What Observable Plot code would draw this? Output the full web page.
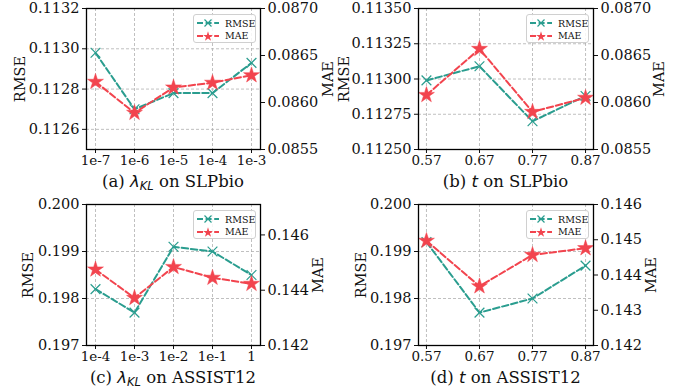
<!DOCTYPE html>
<html>
<head>
<meta charset="utf-8">
<script src="https://cdn.jsdelivr.net/npm/d3@7"></script>
<script src="https://cdn.jsdelivr.net/npm/@observablehq/plot@0.6"></script>
<style>
  html, body { margin: 0; padding: 0; background: #fff; }
  #root { position: relative; width: 683px; height: 392px; overflow: hidden; font-family: "DejaVu Serif", serif; }
  .panel { position: absolute; }
  .panel svg { overflow: visible; display: block; }
  .cap { position: absolute; font-family: "DejaVu Serif", serif; font-size: 16.5px; line-height: 19px; white-space: nowrap; transform: translateX(-50%); color: #111; }
  .cap .m { font-family: "DejaVu Sans", sans-serif; font-style: italic; }
  .cap sub { font-family: "DejaVu Sans", sans-serif; font-style: italic; font-size: 11.5px; vertical-align: -3px; line-height: 0; }
  .leg { position: absolute; width: 63px; height: 29px; border: 1px solid #d0d0d0; border-radius: 3px; background: rgba(255,255,255,0.85); font-family: "DejaVu Serif", serif; font-size: 9.5px; color: #111; box-sizing: border-box; }
  .leg .row { position: absolute; left: 3px; height: 12px; display: flex; align-items: center; }
  .leg .row svg { display: block; margin-right: 6px; }
</style>
</head>
<body>
<div id="root"></div>
<script>
// ---- data ----
const lambdaA = ["1e-7", "1e-6", "1e-5", "1e-4", "1e-3"];
const rmseA = [0.11298, 0.11270, 0.11278, 0.11278, 0.11293];
const maeA = [0.08622, 0.08589, 0.08616, 0.08621, 0.08629];

const tValues = [0.57, 0.67, 0.77, 0.87];
const rmseB = [0.11299, 0.11309, 0.11270, 0.11288];
const maeB = [0.08608, 0.08657, 0.08590, 0.08605];

const lambdaC = ["1e-4", "1e-3", "1e-2", "1e-1", "1"];
const rmseC = [0.1982, 0.1977, 0.1991, 0.1990, 0.1985];
const maeC = [0.14475, 0.14372, 0.14484, 0.14445, 0.14423];

const rmseD = [0.1992, 0.1977, 0.1980, 0.1987];
const maeD = [0.14497, 0.14368, 0.14457, 0.14476];

// tick labels / axis domains
const rmseTicksA = [0.1126, 0.1128, 0.1130, 0.1132];
const rmseDomainA = [0.1125, 0.1132];
const rmseTicksB = [0.11250, 0.11275, 0.11300, 0.11325, 0.11350];
const rmseDomainB = [0.1125, 0.1135];
const maeTicksAB = [0.0855, 0.0860, 0.0865, 0.0870];
const maeDomainAB = [0.0855, 0.0870];
const rmseTicksCD = [0.197, 0.198, 0.199, 0.200];
const rmseDomainCD = [0.197, 0.200];
const maeTicksC = [0.142, 0.144, 0.146];
const maeDomainC = [0.142, 0.1471];
const maeTicksD = [0.142, 0.143, 0.144, 0.145, 0.146];
const maeDomainD = [0.142, 0.146];

const seriesNames = ["RMSE", "MAE"];
const captions = [
  '(a) <span class="m">λ</span><sub>KL</sub> on SLPbio',
  '(b) <span class="m">t</span> on SLPbio',
  '(c) <span class="m">λ</span><sub>KL</sub> on ASSIST12',
  '(d) <span class="m">t</span> on ASSIST12'
];

const TEAL = "#2a9d8f";
const RED = "#f2444e";
const FSY = 14.5, FSX = 13.5;

function makePanel(cfg) {
  const {left, top, width, mL, mR, xs, categorical, rmse, mae, rmseDomain, rmseTicks, rmseDigits,
         maeDomain, maeTicks, maeDigits, labL, labR, caption} = cfg;
  const height = 170, mT = 8, mB = 21;
  const m2r = d3.scaleLinear(maeDomain, rmseDomain);
  const data = xs.map((x, i) => ({x, rmse: rmse[i], mae: mae[i]}));
  const span = categorical ? 0 : xs[xs.length - 1] - xs[0];
  const xScale = categorical
    ? {type: "point", domain: xs, padding: 0.2}
    : {type: "linear", domain: [xs[0] - 0.05 * span, xs[xs.length - 1] + 0.05 * span]};
  const dash = "6.5,2.8";
  const chart = Plot.plot({
    width, height,
    marginLeft: mL, marginRight: mR, marginTop: mT, marginBottom: mB,
    style: {fontFamily: "DejaVu Serif", fontSize: FSY + "px", color: "#111", background: "transparent", overflow: "visible"},
    x: {...xScale},
    y: {domain: rmseDomain, nice: false},
    marks: [
      Plot.gridX(xs, {stroke: "#b0b0b0", strokeOpacity: 1, strokeWidth: 0.8, strokeDasharray: "3,2"}),
      Plot.gridY(rmseTicks, {stroke: "#b0b0b0", strokeOpacity: 1, strokeWidth: 0.8, strokeDasharray: "3,2"}),
      Plot.axisX({ticks: xs, tickSize: 4, tickPadding: 2, label: null,
        tickFormat: categorical ? (d => d) : (d => d.toFixed(2)), fontSize: FSX}),
      Plot.axisY({anchor: "left", ticks: rmseTicks, tickSize: 4, tickPadding: 3, label: null,
        tickFormat: d => d.toFixed(rmseDigits), fontSize: FSY}),
      Plot.axisY({anchor: "right", ticks: maeTicks.map(m2r), tickSize: 4, tickPadding: 3, label: null,
        tickFormat: d => m2r.invert(d).toFixed(maeDigits), fontSize: FSY}),
      Plot.line(data, {x: "x", y: "rmse", stroke: TEAL, strokeWidth: 2, strokeDasharray: dash}),
      Plot.line(data, {x: "x", y: d => m2r(d.mae), stroke: RED, strokeWidth: 2, strokeDasharray: dash}),
      Plot.dot(data, {x: "x", y: "rmse", symbol: "times", stroke: TEAL, strokeWidth: 1.2, r: 4.5}),
      Plot.dot(data, {x: "x", y: d => m2r(d.mae), symbol: "star", fill: RED, stroke: RED, strokeWidth: 0.5, r: 5}),
      Plot.frame({stroke: "#000", strokeWidth: 1.3}),
      Plot.text([seriesNames[0]], {text: d => d, frameAnchor: "left", textAnchor: "middle", lineAnchor: "middle", rotate: -90, dx: -labL, fontSize: FSY}),
      Plot.text([seriesNames[1]], {text: d => d, frameAnchor: "right", textAnchor: "middle", lineAnchor: "middle", rotate: -90, dx: labR, fontSize: FSY})
    ]
  });
  const div = document.createElement("div");
  div.className = "panel";
  div.style.left = left + "px";
  div.style.top = top + "px";
  div.style.width = width + "px";
  div.style.height = "196px";
  div.appendChild(chart);

  const cap = document.createElement("div");
  cap.className = "cap";
  cap.style.left = (mL + (width - mL - mR) / 2) + "px";
  cap.style.top = "172px";
  cap.innerHTML = caption;
  div.appendChild(cap);

  const leg = document.createElement("div");
  leg.className = "leg";
  leg.style.right = (mR + 4) + "px";
  leg.style.top = "14px";
  const rows = [
    {name: seriesNames[0], color: TEAL, sym: "x"},
    {name: seriesNames[1], color: RED, sym: "star"}
  ];
  rows.forEach((r, i) => {
    const row = document.createElement("div");
    row.className = "row";
    row.style.top = (2 + i * 12.5) + "px";
    const p = d3.path(); d3.symbolStar.draw(p, 30);
    const symSvg = r.sym === "x"
      ? `<path d="M7.5,1.5L14.5,8.5M14.5,1.5L7.5,8.5" stroke="${r.color}" stroke-width="1.2" fill="none"/>`
      : `<path transform="translate(11,5.5)" d="${p.toString()}" fill="${r.color}"/>`;
    row.innerHTML = `<svg width="22" height="10"><line x1="0" y1="5" x2="22" y2="5" stroke="${r.color}" stroke-width="1.8" stroke-dasharray="6,2.6"/>${symSvg}</svg><span>${r.name}</span>`;
    leg.appendChild(row);
  });
  div.appendChild(leg);
  document.getElementById("root").appendChild(div);
}

makePanel({left: 0, top: 0, width: 341, mL: 86, mR: 81, xs: lambdaA, categorical: true,
  rmse: rmseA, mae: maeA, rmseDomain: rmseDomainA, rmseTicks: rmseTicksA, rmseDigits: 4,
  maeDomain: maeDomainAB, maeTicks: maeTicksAB, maeDigits: 4, labL: 66, labR: 68, caption: captions[0]});
makePanel({left: 341, top: 0, width: 342, mL: 77, mR: 90, xs: tValues, categorical: false,
  rmse: rmseB, mae: maeB, rmseDomain: rmseDomainB, rmseTicks: rmseTicksB, rmseDigits: 5,
  maeDomain: maeDomainAB, maeTicks: maeTicksAB, maeDigits: 4, labL: 74, labR: 66, caption: captions[1]});
makePanel({left: 0, top: 196, width: 341, mL: 86, mR: 81, xs: lambdaC, categorical: true,
  rmse: rmseC, mae: maeC, rmseDomain: rmseDomainCD, rmseTicks: rmseTicksCD, rmseDigits: 3,
  maeDomain: maeDomainC, maeTicks: maeTicksC, maeDigits: 3, labL: 58, labR: 58, caption: captions[2]});
makePanel({left: 341, top: 196, width: 342, mL: 77, mR: 90, xs: tValues, categorical: false,
  rmse: rmseD, mae: maeD, rmseDomain: rmseDomainCD, rmseTicks: rmseTicksCD, rmseDigits: 3,
  maeDomain: maeDomainD, maeTicks: maeTicksD, maeDigits: 3, labL: 57, labR: 58, caption: captions[3]});
</script>
</body>
</html>
